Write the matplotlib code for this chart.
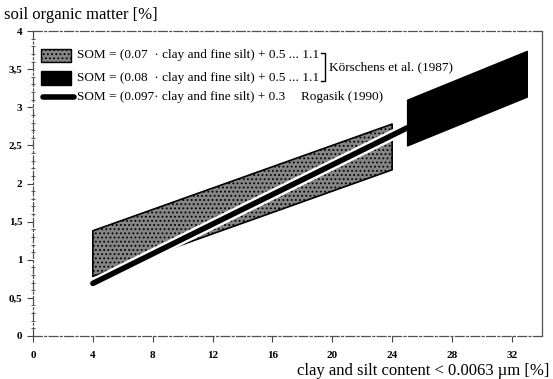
import matplotlib
matplotlib.use("Agg")
import matplotlib.pyplot as plt
import matplotlib.patheffects as pe
from matplotlib.patches import Rectangle
from matplotlib.lines import Line2D
from matplotlib.ticker import MultipleLocator, FuncFormatter

plt.rcParams["font.family"] = ["Liberation Serif", "DejaVu Serif"]
plt.rcParams["hatch.color"] = "#2a2a2a"
plt.rcParams["hatch.linewidth"] = 0.8

# Körschens et al. (1987), SOM = 0.07*x + 0.5 ... 1.1
grey_x = [4, 24]
grey_lo = [0.78, 2.18]
grey_hi = [1.38, 2.78]
# Körschens et al. (1987), SOM = 0.08*x + 0.5 ... 1.1
black_x = [25, 33]
black_lo = [2.50, 3.14]
black_hi = [3.10, 3.74]
# Rogasik (1990), SOM = 0.097*x + 0.3
rog_x = [4, 25]
rog_y = [0.69, 2.73]

xticks = [0, 4, 8, 12, 16, 20, 24, 28, 32]
yticks = [0, 0.5, 1, 1.5, 2, 2.5, 3, 3.5, 4]

fig = plt.figure(figsize=(5.53, 3.79), dpi=100)
ax = fig.add_axes([0.0597, 0.1135, 0.92, 0.8045])

ax.fill_between(grey_x, grey_lo, grey_hi, facecolor="#858585",
                edgecolor="black", hatch="....", lw=1.2, zorder=1)
ax.plot(rog_x, rog_y, color="black", lw=4.0, solid_capstyle="round",
        zorder=1.5,
        path_effects=[pe.Stroke(linewidth=7.5, foreground="white"), pe.Normal()])
ax.fill_between(black_x, black_lo, black_hi, facecolor="black",
                edgecolor="black", lw=1.0, zorder=2)

ax.set_xlim(0, 34)
ax.set_ylim(0, 4)
ax.set_xticks(xticks)
ax.set_yticks(yticks)
ax.yaxis.set_minor_locator(MultipleLocator(0.1))
ax.yaxis.set_major_formatter(FuncFormatter(
    lambda v, _: f"{v:g}".replace(".", ",")))
ax.tick_params(axis="both", which="major", labelsize=8, length=4, width=0.8,
               direction="out", color="#444444")
ax.tick_params(axis="y", which="minor", length=2.5, width=0.6,
               direction="inout", color="#444444")
for lab in ax.get_xticklabels() + ax.get_yticklabels():
    lab.set_fontweight("bold")
ax.tick_params(axis="x", pad=7)

for side, sp in ax.spines.items():
    sp.set_color("#505050")
    sp.set_linewidth(0.9)
    sp.set_linestyle((0, (7, 2, 1.5, 2)) if side != "right" else "-")


# legend drawn by hand; positions given in picture pixels
def ax_xy(px, py):
    return ((px - 33) / (541.7 - 33), (336 - py) / (336 - 31))


fs = 9.5
rows = [55, 78, 97]
x0, y0 = ax_xy(41, rows[0] + 7)
x1, y1 = ax_xy(71, rows[0] - 6)
ax.add_patch(Rectangle((x0, y0), x1 - x0, y1 - y0, transform=ax.transAxes,
                       facecolor="#858585", edgecolor="black", hatch="....",
                       lw=1.0, zorder=4))
x0, y0 = ax_xy(41, rows[1] + 7)
x1, y1 = ax_xy(71, rows[1] - 7)
ax.add_patch(Rectangle((x0, y0), x1 - x0, y1 - y0, transform=ax.transAxes,
                       facecolor="black", edgecolor="black", lw=1.0, zorder=4))
lx0, ly = ax_xy(43, rows[2])
lx1, _ = ax_xy(74, rows[2])
ax.add_line(Line2D([lx0, lx1], [ly, ly], transform=ax.transAxes, color="black",
                   lw=4.0, solid_capstyle="round", zorder=4))

tx, _ = ax_xy(77, 0)
for py, txt in zip(rows,
                   ("SOM = (0.07  · clay and fine silt) + 0.5 ... 1.1",
                    "SOM = (0.08  · clay and fine silt) + 0.5 ... 1.1",
                    "SOM = (0.097· clay and fine silt) + 0.3")):
    _, ty = ax_xy(0, py)
    ax.text(tx, ty, txt, transform=ax.transAxes, fontsize=fs, va="center",
            ha="left")

# bracket joining the two Körschens rows
bx, by0 = ax_xy(325, rows[0] - 2)
bxl, by1 = ax_xy(321, rows[1] + 3)
ax.plot([bxl, bx, bx, bxl], [by0, by0, by1, by1], transform=ax.transAxes,
        color="black", lw=1.0, clip_on=False)
kx, ky = ax_xy(329, 67)
ax.text(kx, ky, "Körschens et al. (1987)", transform=ax.transAxes,
        fontsize=fs, va="center", ha="left")
rx, ry = ax_xy(301, rows[2])
ax.text(rx, ry, "Rogasik (1990)", transform=ax.transAxes, fontsize=fs,
        va="center", ha="left")

fig.text(4 / 553, 1 - 15 / 379, "soil organic matter [%]", fontsize=12,
         ha="left", va="center")
fig.text(549 / 553, 1 - 371 / 379, "clay and silt content < 0.0063 µm [%]",
         fontsize=12, ha="right", va="center")

fig.savefig("out.png", dpi=100)
